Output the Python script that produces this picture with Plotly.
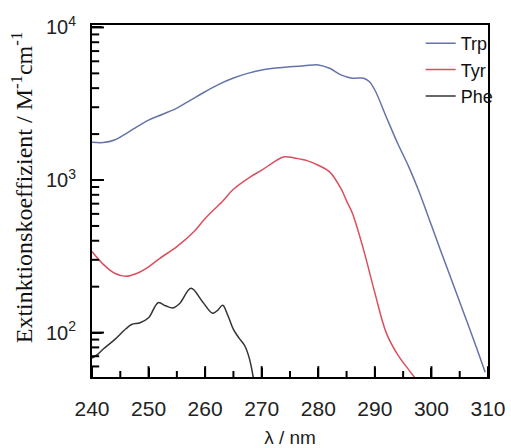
import math
import plotly.graph_objects as go

trp_x = [240, 242, 244, 245.5, 247.5, 250, 252.5, 255, 257.5, 260, 262.5, 265, 267.5, 270, 272.5, 275,
         277.5, 280, 282, 284, 286, 288, 289, 290, 292, 294, 296, 297.7, 300, 302, 304, 306, 308, 309.5]
trp_y = [1770, 1760, 1830, 1960, 2180, 2470, 2700, 2960, 3350, 3790, 4250, 4660, 5000, 5260, 5420, 5530,
         5600, 5680, 5400, 4890, 4650, 4650, 4420, 3890, 2600, 1750, 1220, 860, 505, 316, 200, 126, 79, 55]

tyr_x = [240, 242, 244, 246, 248, 250, 252, 255, 258, 260, 263, 265, 268, 270, 272, 274,
         276, 278, 280, 282, 284, 285, 286, 288, 290, 292, 294, 296, 297]
tyr_y = [340, 280, 245, 234, 245, 270, 307, 366, 458, 560, 721, 870, 1050, 1160, 1300, 1420,
         1390, 1340, 1250, 1130, 880, 730, 610, 350, 182, 100, 72, 57, 51]

phe_x = [240, 241, 242, 244, 246, 247, 248.5, 250, 251.7, 253, 254.3, 255.5, 257.5, 259.5,
         261.3, 262.2, 263.1, 264, 265, 266, 267, 267.8, 268.5]
phe_y = [68, 72, 78, 90, 106, 113, 116, 125, 157, 150, 145, 155, 195, 160,
         134, 140, 151, 130, 105, 92, 82, 68, 51]

x_ticks = [240, 250, 260, 270, 280, 290, 300, 310]
x_minor = [245, 255, 265, 275, 285, 295, 305]
y_ticks = [100, 1000, 10000]
y_ticktext = ["10<sup>2</sup>", "10<sup>3</sup>", "10<sup>4</sup>"]
y_minor = [m * 10 ** d for d in (1, 2, 3) for m in range(2, 10)]

W, H = 511, 448
ML, MR, MT, MB = 92, 21, 25, 71
x_lo, x_hi = 240, 310
y_lo, y_hi = 1.709, 4.016
px_x = (x_hi - x_lo) / (W - ML - MR)
px_y = (y_hi - y_lo) / (H - MT - MB)

fig = go.Figure()
fig.add_trace(go.Scatter(x=trp_x, y=trp_y, name="Trp", mode="lines",
                         line=dict(color="#6474aa", width=1.5, shape="spline", smoothing=1.0)))
fig.add_trace(go.Scatter(x=tyr_x, y=tyr_y, name="Tyr", mode="lines",
                         line=dict(color="#d8505e", width=1.5, shape="spline", smoothing=1.0)))
fig.add_trace(go.Scatter(x=phe_x, y=phe_y, name="Phe", mode="lines",
                         line=dict(color="#333333", width=1.5, shape="spline", smoothing=1.0)))

# inward tick marks as line-shaped markers placed from the tick value lists
def xtick_trace(vals, ln):
    return go.Scatter(x=vals, y=[10 ** (y_lo + ln / 2 * px_y)] * len(vals), mode="markers",
                      marker=dict(symbol="line-ns", size=ln, line=dict(width=2, color="black")),
                      showlegend=False, hoverinfo="skip", cliponaxis=False)

def ytick_trace(vals, ln):
    vals = [v for v in vals if y_lo <= math.log10(v) <= y_hi]
    return go.Scatter(x=[x_lo + ln / 2 * px_x] * len(vals), y=vals, mode="markers",
                      marker=dict(symbol="line-ew", size=ln, line=dict(width=2, color="black")),
                      showlegend=False, hoverinfo="skip", cliponaxis=False)

fig.add_trace(xtick_trace(x_ticks, 9))
fig.add_trace(xtick_trace(x_minor, 5))
fig.add_trace(ytick_trace(y_ticks, 10))
fig.add_trace(ytick_trace(y_minor, 6))

fig.update_layout(
    width=W, height=H,
    margin=dict(l=ML, r=MR, t=MT, b=MB),
    plot_bgcolor="white", paper_bgcolor="white",
    font=dict(family="Liberation Sans, Arial", color="#222222"),
    showlegend=True,
    legend=dict(x=0.83, y=1.0, xanchor="left", yanchor="top", bgcolor="rgba(0,0,0,0)",
                font=dict(size=18, color="#111111"), tracegroupgap=0),
    xaxis=dict(range=[x_lo, x_hi], tickmode="array", tickvals=x_ticks,
               ticks="inside", ticklen=9, tickwidth=2, tickcolor="black",
               showline=True, linewidth=2, linecolor="black", ticklabelstandoff=12,
               automargin=False, mirror=True, showgrid=False, zeroline=False,
               tickfont=dict(size=21),
               title=dict(text="λ / nm", font=dict(size=19), standoff=16)),
    yaxis=dict(type="log", range=[y_lo, y_hi], tickmode="array", tickvals=y_ticks,
               ticktext=y_ticktext, ticks="inside", ticklen=10, tickwidth=2, tickcolor="black",
               ticklabelstandoff=10, automargin=False,
               showline=True, linewidth=2, linecolor="black", mirror=True,
               showgrid=False, zeroline=False, tickfont=dict(size=20)),
)

fig.add_annotation(text="Extinktionskoeffizient / M<sup>-1</sup>cm<sup>-1</sup>",
                   xref="paper", yref="paper", x=-0.176, y=0.54, textangle=-90,
                   showarrow=False, xanchor="center", yanchor="middle",
                   font=dict(family="Liberation Serif, Times New Roman", size=24, color="#111111"))

fig.write_html("out.html")
